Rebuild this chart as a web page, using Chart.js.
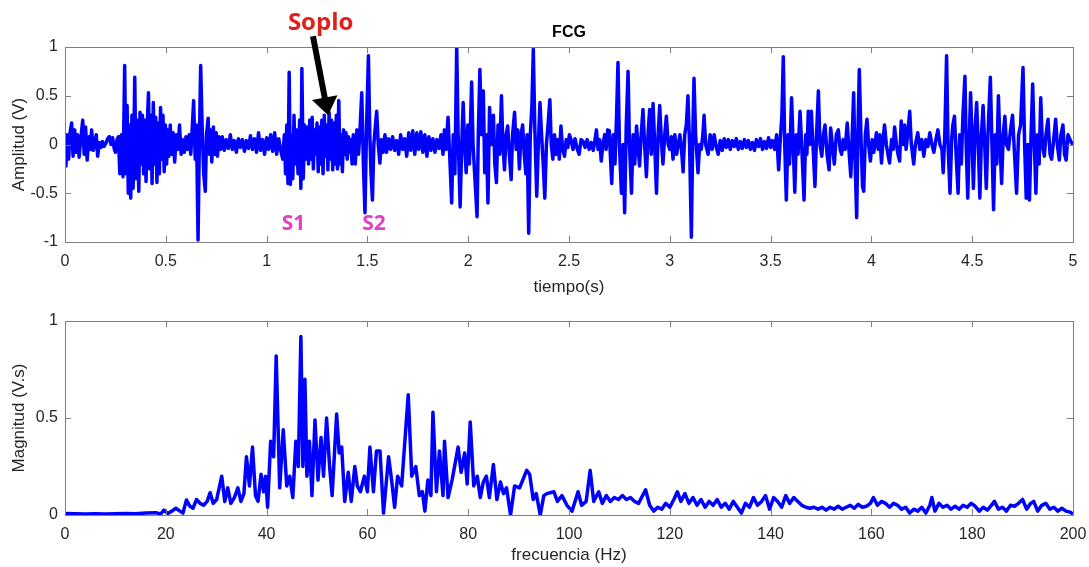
<!DOCTYPE html>
<html>
<head>
<meta charset="utf-8">
<script src="https://cdn.jsdelivr.net/npm/chart.js@4.4.1/dist/chart.umd.min.js"></script>
<style>
html,body{margin:0;padding:0;background:#ffffff;}
#wrap{position:relative;width:1089px;height:567px;overflow:hidden;background:#fff;}
#fcg{position:absolute;left:0;top:0;}
#spec{position:absolute;left:0;top:300px;}
</style>
</head>
<body>
<div id="wrap">
<canvas id="fcg" width="1089" height="300"></canvas>
<canvas id="spec" width="1089" height="267"></canvas>
</div>
<script>
// ---------- Data: phonocardiogram (time domain) ----------
const timeS = [
0,0.005,0.010,0.018,0.025,0.033,0.040,0.048,0.055,0.062,0.070,0.078,0.088,0.095,0.102,0.110,0.118,0.125,0.132,0.140,0.148,0.155,0.162,0.170,0.178,0.186,0.194,0.202,0.212,0.220,0.228,0.236,0.244,0.250,0.258,0.265,
0.272,0.280,0.288,0.296,0.302,0.308,0.314,0.320,0.326,0.332,0.338,0.346,0.352,0.358,0.366,0.372,0.378,0.384,0.390,0.396,0.402,0.408,0.414,0.420,0.426,0.432,0.438,0.444,0.450,0.456,0.462,0.468,0.474,0.480,0.486,0.492,0.498,0.504,0.510,0.516,0.522,0.528,0.536,0.544,0.552,0.560,0.568,0.576,0.584,0.592,0.600,0.608,0.616,0.624,0.632,0.638,0.646,0.652,0.660,0.667,0.673,0.680,0.688,0.696,0.702,0.710,0.716,0.722,0.728,0.736,0.742,0.750,0.756,0.764,0.772,
0.780,0.790,0.800,0.810,0.820,0.830,0.840,0.850,0.860,0.870,0.880,0.890,0.900,0.910,0.920,0.930,0.940,0.950,0.960,0.970,0.980,0.990,1.000,1.010,1.020,1.030,1.040,1.050,1.060,1.070,
1.080,1.088,1.094,1.100,1.106,1.112,1.118,1.124,1.130,1.136,1.142,1.148,1.156,1.164,1.170,1.175,1.182,1.188,
1.196,1.202,1.208,1.214,1.220,1.226,1.232,1.238,1.244,1.250,1.256,1.262,1.268,1.274,1.280,1.286,1.292,1.298,1.304,1.310,1.316,1.322,1.328,1.334,1.340,1.346,1.352,1.358,1.364,1.370,1.376,1.382,1.388,1.394,1.400,1.406,1.412,1.418,1.424,1.430,
1.440,1.448,1.456,1.462,1.472,1.480,1.488,1.496,1.505,1.512,1.518,1.525,1.532,1.540,1.546,1.554,1.562,1.570,1.578,1.587,
1.595,1.605,1.615,1.625,1.635,1.645,1.655,1.665,1.675,1.685,1.695,1.705,1.715,1.725,1.735,1.745,1.755,1.765,1.775,1.785,1.795,1.805,1.815,1.825,1.835,1.845,1.855,1.865,
1.875,1.882,1.890,1.900,1.908,1.918,1.926,1.934,1.943,1.950,1.960,1.968,1.975,1.982,1.990,1.998,2.006,2.017,2.024,2.032,2.044,2.050,2.058,2.066,2.075,2.082,2.090,2.098,2.106,2.114,2.125,2.132,2.140,2.148,2.156,2.165,2.172,2.180,2.188,2.196,2.204,2.213,2.220,2.230,2.238,2.246,2.254,2.262,2.270,2.278,2.286,2.292,2.300,2.308,2.316,2.323,2.330,2.340,2.348,2.356,2.364,2.372,2.380,2.388,2.396,2.405,2.412,2.420,2.428,2.436,2.444,2.452,2.460,2.468,2.478,2.486,2.494,2.502,2.510,
2.520,2.530,2.540,2.550,2.560,2.570,2.580,2.590,2.600,2.610,2.620,2.630,
2.636,2.644,2.652,2.660,2.668,2.677,2.684,2.692,2.700,2.706,2.712,2.720,2.728,2.736,2.743,2.750,2.760,2.768,2.776,2.784,2.793,2.800,2.810,2.818,2.826,2.835,2.842,2.850,2.858,2.867,2.875,2.884,2.892,2.900,2.908,2.917,2.925,2.934,2.942,2.950,2.958,2.966,2.975,2.983,2.992,3.000,3.008,3.016,3.025,3.034,3.042,3.050,3.058,3.066,3.074,3.082,3.090,3.098,3.107,3.114,3.120,3.128,3.140,3.148,3.156,3.164,3.170,3.178,3.190,3.200,3.210,3.220,3.230,3.240,3.250,
3.260,3.270,3.280,3.290,3.300,3.310,3.320,3.330,3.340,3.350,3.360,3.370,3.380,3.390,3.400,3.410,3.420,3.430,3.440,3.450,3.460,3.470,3.480,3.490,3.500,3.510,3.520,3.530,
3.540,3.548,3.556,3.563,3.570,3.578,3.586,3.594,3.604,3.612,3.620,3.628,3.636,3.646,3.654,3.666,3.674,3.680,3.687,3.694,3.702,3.710,3.720,3.728,3.737,3.745,3.754,3.762,3.770,3.780,3.790,3.798,3.806,3.816,3.826,3.836,3.845,3.852,3.860,3.870,3.880,3.890,3.898,3.905,3.912,3.918,3.927,3.933,3.940,3.948,3.956,3.962,3.970,3.978,3.986,3.995,
4.004,4.012,4.025,4.034,4.042,4.050,4.058,4.065,4.074,4.082,4.090,4.100,4.108,4.115,4.124,4.132,4.140,4.148,4.156,4.165,4.172,4.180,4.190,4.198,4.210,4.218,4.230,4.240,4.250,4.260,4.270,4.280,4.290,4.300,4.310,4.320,4.330,4.340,4.350,
4.356,4.364,4.373,4.380,4.390,4.398,4.404,4.412,4.420,4.430,4.438,4.446,4.454,4.464,4.470,4.478,4.486,4.492,4.500,4.506,4.514,4.522,4.530,4.538,4.546,4.554,4.562,4.570,4.578,4.590,4.598,4.606,4.614,4.622,4.630,4.638,4.646,4.654,4.662,4.670,4.680,4.690,4.700,4.710,4.720,4.730,4.740,4.752,4.760,4.768,4.776,4.784,4.792,4.800,4.808,4.816,4.824,4.832,4.840,4.848,4.858,4.866,4.876,4.886,4.894,4.904,4.914,4.922,4.932,4.940,4.950,4.958,4.966,4.975,4.985,4.992,5.000
];
const amplitudeV = [
-0.05,-0.22,0.10,-0.15,0.12,0.22,-0.12,0.15,-0.08,0.10,-0.13,0.05,0.25,-0.10,0.18,-0.16,0.08,-0.05,0.15,-0.06,0.02,0.10,-0.12,0.02,-0.03,0.03,-0.02,0.01,0.06,0.08,0.00,0.07,-0.04,-0.08,0.05,0.08,
-0.30,0.10,-0.33,0.81,-0.30,0.40,-0.50,0.20,-0.55,0.30,-0.45,0.69,-0.35,0.25,-0.48,0.33,-0.20,0.30,-0.30,0.25,-0.38,0.20,0.53,-0.25,0.30,-0.40,0.43,-0.20,0.28,-0.39,0.22,-0.30,0.38,-0.15,0.30,-0.28,0.20,-0.20,0.15,-0.12,0.20,-0.10,0.12,-0.18,0.10,-0.05,0.20,-0.10,0.05,-0.08,0.08,-0.05,0.10,-0.10,0.20,0.45,-0.15,0.20,-0.98,0.10,0.81,0.20,-0.30,-0.48,0.10,0.27,-0.10,0.15,-0.18,0.18,-0.10,0.12,-0.12,0.08,-0.05,
0.08,-0.06,0.05,-0.04,0.10,-0.05,0.04,-0.08,0.06,-0.03,0.05,-0.07,0.04,-0.04,0.09,-0.05,0.06,-0.08,0.12,-0.06,0.05,-0.10,0.07,-0.05,0.10,-0.07,0.12,-0.10,0.06,-0.06,
-0.15,0.10,-0.30,0.20,-0.40,0.74,-0.41,0.10,-0.35,0.30,-0.20,0.15,-0.30,0.25,-0.45,0.78,-0.35,0.20,
-0.15,0.18,-0.20,0.25,-0.15,0.28,-0.25,0.15,-0.10,0.22,-0.28,0.18,-0.20,0.25,-0.30,0.30,-0.12,0.20,-0.26,0.33,-0.15,0.25,-0.26,0.22,-0.20,0.30,-0.25,0.45,-0.20,0.10,-0.28,0.15,-0.10,0.12,-0.15,0.08,-0.08,0.05,-0.20,0.10,
-0.20,0.15,-0.10,0.10,0.53,-0.20,-0.70,0.20,0.91,0.10,-0.30,-0.57,0.00,0.20,0.34,0.00,-0.19,0.05,-0.08,0.10,
-0.08,0.06,-0.05,0.08,-0.06,0.04,-0.10,0.10,-0.05,0.06,-0.12,0.12,-0.06,0.14,-0.10,0.12,-0.05,0.13,-0.08,0.10,-0.12,0.08,-0.06,0.06,-0.08,0.05,-0.04,0.10,
-0.10,0.15,-0.05,0.28,-0.10,-0.60,0.10,-0.30,1.00,0.10,-0.64,0.00,0.43,0.00,-0.29,0.20,-0.20,0.64,0.00,-0.30,-0.74,0.10,0.77,0.10,0.55,-0.29,0.10,-0.60,0.38,0.00,0.30,-0.20,-0.39,0.20,-0.10,0.50,0.00,-0.26,0.10,0.19,-0.10,-0.36,0.10,0.33,-0.05,0.15,-0.25,0.10,0.20,-0.10,-0.30,0.10,-0.91,0.10,0.40,0.98,0.20,-0.53,0.00,0.43,0.10,-0.20,-0.55,0.00,0.20,0.46,0.00,-0.15,0.10,-0.10,0.05,-0.15,0.19,-0.05,-0.12,0.05,-0.03,0.10,0.05,
-0.05,0.06,-0.04,-0.10,0.05,0.03,-0.03,0.05,-0.05,0.02,-0.06,0.06,
0.15,-0.05,0.05,-0.17,0.00,0.10,-0.05,0.15,0.14,-0.15,-0.40,0.10,-0.20,0.30,0.84,0.00,-0.50,0.00,-0.70,0.20,0.75,0.00,-0.50,0.10,-0.20,0.19,0.00,-0.22,0.10,0.36,0.00,-0.33,0.10,0.36,-0.10,0.42,0.00,-0.50,0.10,0.40,0.05,-0.20,0.10,0.29,0.00,-0.05,0.08,-0.15,0.10,-0.10,0.00,0.10,-0.05,-0.28,0.10,0.20,0.50,0.00,-0.95,0.10,0.68,0.10,-0.29,0.00,-0.05,0.10,0.30,0.00,-0.10,0.10,-0.05,0.10,-0.02,-0.10,0.04,
-0.06,0.06,-0.03,0.05,-0.05,0.04,-0.02,0.06,-0.05,0.03,-0.04,0.05,-0.03,0.04,-0.05,0.02,-0.06,0.05,-0.02,0.06,-0.05,0.03,-0.04,0.07,-0.03,0.04,-0.05,0.10,
-0.26,0.05,0.30,0.90,0.00,-0.57,0.10,-0.20,0.48,0.00,-0.49,0.10,-0.10,0.34,0.00,-0.57,0.10,-0.10,0.34,0.00,0.34,0.00,-0.43,0.10,0.55,0.00,-0.12,0.10,0.20,-0.10,-0.26,0.17,0.00,-0.20,0.10,0.15,-0.05,-0.10,0.05,-0.05,0.22,-0.10,-0.33,0.10,0.53,-0.10,-0.75,0.10,0.77,0.10,-0.43,-0.48,0.10,0.26,0.00,-0.17,
0.05,-0.08,0.12,-0.05,0.10,-0.19,0.05,0.20,0.00,-0.10,-0.19,0.05,-0.05,0.18,0.00,-0.10,-0.17,0.24,0.00,0.20,-0.05,0.10,0.34,0.00,-0.20,0.00,0.12,-0.05,0.05,-0.12,0.05,-0.02,0.12,0.00,-0.08,0.05,0.15,0.00,-0.05,
-0.29,0.10,0.91,0.00,-0.50,0.05,0.20,0.29,-0.10,-0.50,0.10,-0.20,0.30,0.70,0.00,-0.55,0.10,0.53,0.00,-0.45,0.15,0.43,0.00,-0.55,0.10,0.40,0.00,-0.45,0.10,0.69,0.00,-0.67,0.10,-0.20,0.50,0.00,-0.40,0.10,0.29,0.00,-0.05,0.15,0.30,-0.10,-0.50,0.10,0.20,0.79,0.00,-0.55,0.00,-0.57,0.10,0.62,0.00,-0.50,0.10,-0.20,0.48,0.00,-0.12,0.10,0.26,-0.10,-0.15,0.05,0.26,0.00,-0.16,0.10,0.20,-0.10,-0.16,0.10,0.05,0.02,0.00
];

// ---------- Data: magnitude spectrum ----------
const freqHz = [
0,2,4,6,8,10,12,14,16,18,
19,19.6,20.4,21.2,22,22.8,23.4,24.1,24.8,25.4,
26.1,26.8,27.5,28.2,28.8,29.4,30.1,31.1,31.7,32.3,
32.9,33.6,34.3,34.9,35.5,36.0,36.6,37.2,37.8,38.3,
38.9,39.4,39.8,40.2,40.8,41.4,41.9,42.6,43.3,44.0,
44.6,45.2,45.8,46.3,46.8,47.2,47.6,48.0,48.5,49.0,
49.6,50.2,50.8,51.3,51.9,52.5,53.0,53.9,54.4,54.9,
55.5,56.2,56.8,57.5,58.0,58.6,59.4,60.0,60.5,61.2,
61.8,62.5,63.2,64.2,64.8,65.4,66.0,66.8,68.1,68.8,
69.6,70.3,70.9,71.4,72.0,72.6,73.0,73.7,74.3,75.0,
75.3,76.0,76.8,78.0,78.6,79.3,79.8,80.4,81.1,81.8,
82.4,83.0,83.6,84.2,85.0,85.7,86.4,87.0,87.6,88.4,
89.2,90.2,91.6,92.2,92.9,93.5,94.3,95.0,95.6,97.0,
97.7,98.6,99.6,100.6,101.8,102.5,103.4,104.2,104.9,
105.9,106.6,107.4,108.2,109.0,109.8,110.6,111.4,112.2,113.0,
113.8,114.6,115.2,116.0,116.8,117.6,118.4,119.2,120.0,120.8,
121.5,122.2,123.0,123.8,124.6,125.4,126.2,127.0,127.8,128.6,
129.4,130.2,131.0,131.8,132.6,133.4,134.2,135.0,135.8,136.6,
137.4,138.2,139.0,139.8,140.6,141.4,142.2,143.0,143.8,144.6,
145.4,146.2,147.0,147.8,148.6,149.4,150.2,151.0,151.8,152.6,
153.4,154.2,155.0,155.8,156.6,157.4,158.2,159.0,159.8,160.4,
161.2,162.0,162.8,163.6,164.4,165.2,166.0,166.8,167.6,168.4,
169.2,170.0,170.8,171.6,172.0,172.6,173.4,174.2,175.0,175.8,
176.6,177.4,178.2,179.0,179.8,180.6,181.4,182.2,183.0,183.8,
184.4,185.2,186.0,186.8,187.6,188.4,189.2,190.0,190.8,191.6,
192.2,193.0,193.8,194.6,195.4,196.2,197.0,197.8,198.6,199.4,
200
];
const magnitudeVs = [
0.008,0.006,0.005,0.007,0.005,0.006,0.008,0.006,0.010,0.012,
0.005,0.025,0.008,0.020,0.035,0.020,0.010,0.077,0.045,0.035,
0.080,0.060,0.050,0.070,0.115,0.060,0.080,0.200,0.070,0.140,
0.060,0.090,0.140,0.070,0.110,0.300,0.150,0.350,0.100,0.070,
0.210,0.120,0.200,0.040,0.380,0.300,0.820,0.140,0.440,0.150,
0.200,0.090,0.380,0.250,0.920,0.250,0.700,0.200,0.380,0.100,
0.490,0.180,0.400,0.200,0.500,0.250,0.100,0.520,0.320,0.350,
0.070,0.220,0.070,0.250,0.150,0.120,0.200,0.120,0.350,0.120,
0.330,0.330,0.010,0.300,0.180,0.040,0.200,0.150,0.620,0.200,
0.250,0.100,0.120,0.020,0.180,0.100,0.530,0.120,0.330,0.100,
0.380,0.090,0.180,0.350,0.220,0.320,0.160,0.480,0.150,0.200,
0.090,0.170,0.200,0.090,0.260,0.080,0.170,0.110,0.140,0.000,
0.150,0.140,0.230,0.210,0.080,0.110,0.000,0.100,0.110,0.120,
0.070,0.100,0.050,0.020,0.120,0.050,0.070,0.230,0.070,
0.120,0.060,0.100,0.070,0.090,0.080,0.100,0.080,0.090,0.070,
0.060,0.100,0.130,0.050,0.020,0.040,0.030,0.060,0.040,0.080,
0.120,0.070,0.110,0.060,0.090,0.050,0.080,0.040,0.070,0.050,
0.080,0.040,0.060,0.030,0.070,0.040,0.010,0.060,0.040,0.090,
0.050,0.070,0.100,0.030,0.090,0.070,0.040,0.100,0.060,0.090,
0.070,0.050,0.040,0.035,0.040,0.030,0.040,0.025,0.040,0.030,
0.045,0.030,0.040,0.050,0.035,0.055,0.040,0.045,0.060,0.090,
0.050,0.070,0.060,0.040,0.060,0.050,0.030,0.040,0.010,0.030,
0.020,0.040,0.010,0.050,0.090,0.020,0.060,0.040,0.050,0.030,
0.045,0.030,0.050,0.040,0.060,0.045,0.020,0.040,0.025,0.050,
0.070,0.030,0.040,0.020,0.050,0.045,0.060,0.080,0.030,0.060,
0.070,0.020,0.050,0.060,0.030,0.040,0.020,0.035,0.020,0.015,
0.005
];

// ---------- Axis ticks / labels ----------
const timeTicks = {min: 0, max: 5, step: 0.5};
const ampTicks = {min: -1, max: 1, step: 0.5};
const freqTicks = {min: 0, max: 200, step: 20};
const magTicks = {min: 0, max: 1, step: 0.5};
const texts = {
  topTitle: 'FCG', topX: 'tiempo(s)', topY: 'Amplitud (V)',
  botX: 'frecuencia (Hz)', botY: 'Magnitud (V.s)',
  murmur: 'Soplo', s1: 'S1', s2: 'S2'
};
// annotation anchors, in data units of the top chart
const notePos = {
  murmur: {t: 1.268, v: 1.17},
  arrowFrom: {t: 1.23, v: 1.11}, arrowTo: {t: 1.305, v: 0.30},
  s1: {t: 1.133, v: -0.88}, s2: {t: 1.533, v: -0.88}
};

// ---------- Styling ----------
const FONT = "'Liberation Sans', Arial, Helvetica, sans-serif";
const TICK_COLOR = '#262626';
const LINE_COLOR = '#0000ff';
const FRAME_COLOR = '#7f7f7f';

const framePlugin = {
  id: 'matlabFrame',
  afterDatasetsDraw(chart) {
    const {ctx, chartArea: a, scales} = chart;
    ctx.save();
    ctx.strokeStyle = FRAME_COLOR;
    ctx.lineWidth = 1;
    ctx.strokeRect(Math.round(a.left) + 0.5, Math.round(a.top) + 0.5,
                   Math.round(a.right - a.left), Math.round(a.bottom - a.top));
    const L = 6;
    ctx.beginPath();
    scales.x.ticks.forEach(tk => {
      const x = Math.round(scales.x.getPixelForValue(tk.value)) + 0.5;
      ctx.moveTo(x, a.bottom); ctx.lineTo(x, a.bottom - L);
      ctx.moveTo(x, a.top); ctx.lineTo(x, a.top + L);
    });
    scales.y.ticks.forEach(tk => {
      const y = Math.round(scales.y.getPixelForValue(tk.value)) + 0.5;
      ctx.moveTo(a.left, y); ctx.lineTo(a.left + L, y);
      ctx.moveTo(a.right, y); ctx.lineTo(a.right - L, y);
    });
    ctx.stroke();
    ctx.restore();
  }
};

const notesPlugin = {
  id: 'fcgNotes',
  afterDraw(chart) {
    const {ctx, chartArea: a, scales: {x, y}} = chart;
    const px = p => ({x: x.getPixelForValue(p.t), y: y.getPixelForValue(p.v)});
    ctx.save();
    ctx.fillStyle = '#000';
    ctx.font = 'bold 16px ' + FONT;
    ctx.textAlign = 'center';
    ctx.textBaseline = 'middle';
    ctx.fillText(texts.topTitle, (a.left + a.right) / 2, a.top - 14);
    ctx.textBaseline = 'alphabetic';
    ctx.font = "bold 24px 'Open Sans', 'Liberation Sans', sans-serif";
    ctx.fillStyle = '#e0201b';
    const m = px(notePos.murmur);
    ctx.fillText(texts.murmur, m.x, m.y);
    const p0 = px(notePos.arrowFrom), p1 = px(notePos.arrowTo);
    const dx = p1.x - p0.x, dy = p1.y - p0.y, len = Math.hypot(dx, dy);
    const ux = dx / len, uy = dy / len, nx = -uy, ny = ux;
    const headL = 18, headW = 13;
    const bx = p1.x - ux * headL, by = p1.y - uy * headL;
    ctx.strokeStyle = '#000';
    ctx.lineWidth = 6;
    ctx.lineCap = 'butt';
    ctx.beginPath(); ctx.moveTo(p0.x, p0.y); ctx.lineTo(bx + ux * 2, by + uy * 2); ctx.stroke();
    ctx.fillStyle = '#000';
    ctx.beginPath();
    ctx.moveTo(p1.x, p1.y);
    ctx.lineTo(bx + nx * headW, by + ny * headW);
    ctx.lineTo(bx - nx * headW, by - ny * headW);
    ctx.closePath(); ctx.fill();
    ctx.font = "bold 21px 'Open Sans', 'Liberation Sans', sans-serif";
    ctx.fillStyle = '#e23fc4';
    const s1 = px(notePos.s1), s2 = px(notePos.s2);
    ctx.fillText(texts.s1, s1.x, s1.y);
    ctx.fillText(texts.s2, s2.x, s2.y);
    ctx.restore();
  }
};

function buildOptions(o) {
  const tickFont = {family: FONT, size: 16};
  const titleFont = {family: FONT, size: 17};
  return {
    responsive: false,
    animation: false,
    events: [],
    layout: {padding: {left: 0, right: 16, top: o.padTop, bottom: 0}},
    plugins: {legend: {display: false}, tooltip: {enabled: false}, title: {display: false}},
    elements: {point: {radius: 0}, line: {tension: 0}},
    scales: {
      x: {
        type: 'linear', min: o.xr.min, max: o.xr.max,
        grid: {display: false, drawTicks: false}, border: {display: false},
        ticks: {stepSize: o.xr.step, autoSkip: false, maxRotation: 0, padding: 10,
                color: TICK_COLOR, font: tickFont, callback: v => String(v)},
        title: {display: true, text: o.xTitle, color: TICK_COLOR, font: titleFont,
                padding: {top: 0, bottom: o.xTitlePad}},
        afterFit: s => { s.height = o.xAxisHeight; s.paddingLeft = 0; s.paddingRight = 0; }
      },
      y: {
        type: 'linear', min: o.yr.min, max: o.yr.max,
        grid: {display: false, drawTicks: false}, border: {display: false},
        ticks: {stepSize: o.yr.step, autoSkip: false, padding: 7,
                color: TICK_COLOR, font: tickFont, callback: v => String(v)},
        title: {display: true, text: o.yTitle, color: TICK_COLOR, font: titleFont,
                padding: {top: 9, bottom: 0}},
        afterFit: s => { s.width = 65; s.paddingTop = 0; s.paddingBottom = 0; }
      }
    }
  };
}

const n1 = Math.min(timeS.length, amplitudeV.length);
const fcgData = [];
for (let i = 0; i < n1; i++) fcgData.push({x: timeS[i], y: amplitudeV[i]});
const n2 = Math.min(freqHz.length, magnitudeVs.length);
const specData = [];
for (let i = 0; i < n2; i++) specData.push({x: freqHz[i], y: magnitudeVs[i]});

new Chart(document.getElementById('fcg'), {
  type: 'line',
  data: {datasets: [{data: fcgData, borderColor: LINE_COLOR, borderWidth: 3.5, pointRadius: 0, fill: false, borderJoinStyle: 'round'}]},
  options: buildOptions({padTop: 47, xr: timeTicks, yr: ampTicks, xTitle: texts.topX, yTitle: texts.topY, xTitlePad: 2, xAxisHeight: 58}),
  plugins: [framePlugin, notesPlugin]
});

new Chart(document.getElementById('spec'), {
  type: 'line',
  data: {datasets: [{data: specData, borderColor: LINE_COLOR, borderWidth: 3.5, pointRadius: 0, fill: false, borderJoinStyle: 'round'}]},
  options: buildOptions({padTop: 21, xr: freqTicks, yr: magTicks, xTitle: texts.botX, yTitle: texts.botY, xTitlePad: 1, xAxisHeight: 52}),
  plugins: [framePlugin]
});
</script>
</body>
</html>
